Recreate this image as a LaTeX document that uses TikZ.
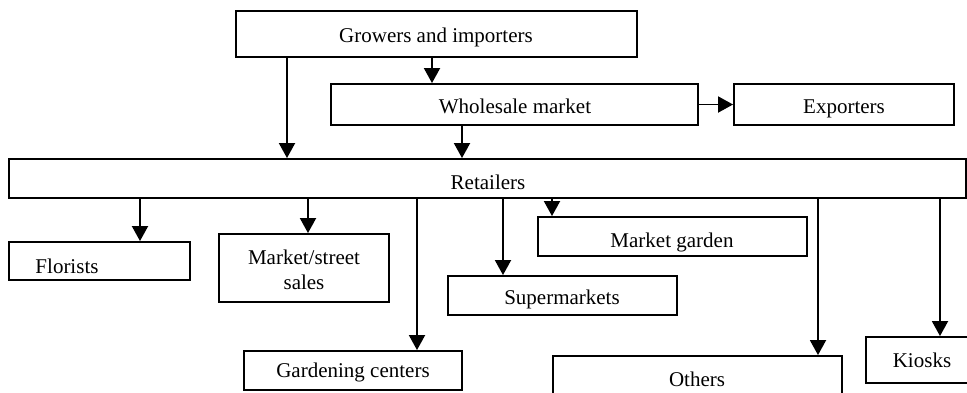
\documentclass[tikz,border=0pt]{standalone}
\usepackage{fontspec}
\setmainfont{Liberation Serif}
\usetikzlibrary{arrows.meta}
\tikzset{
  box/.style={draw=black, line width=1.9pt, inner sep=0pt, fill=white},
  lbl/.style={inner sep=0pt, anchor=base, font=\fontsize{21}{25}\selectfont},
  arr/.style={line width=1.9pt, -{Triangle[length=15pt,width=16pt]}},
}
\begin{document}
\begin{tikzpicture}[x=1pt,y=-1pt]
\clip (0,0) rectangle (967,392);
\fill[white] (0,0) rectangle (967,392);
% boxes
\node[box, minimum width=401pt, minimum height=46pt] (g) at (436.5,34) {};
\node[box, minimum width=367pt, minimum height=41pt] (w) at (514.5,104.5) {};
\node[box, minimum width=220pt, minimum height=41pt] (e) at (844,104.5) {};
\node[box, minimum width=957pt, minimum height=39pt] (r) at (487.5,178.5) {};
\node[box, minimum width=181pt, minimum height=38pt] (f) at (99.5,261) {};
\node[box, minimum width=170pt, minimum height=68pt] (m) at (304,268) {};
\node[box, minimum width=218pt, minimum height=39pt] (gc) at (353,370.5) {};
\node[box, minimum width=229pt, minimum height=39pt] (s) at (562.5,295.5) {};
\node[box, minimum width=269pt, minimum height=39pt] (mg) at (672.5,236.5) {};
\node[box, minimum width=289pt, minimum height=54pt] (o) at (697.5,383) {};
\node[box, minimum width=124pt, minimum height=46pt] (k) at (928,360) {};
% labels
\node[lbl] (gt) at (436,42) {Growers and importers};
\node[lbl] (wt) at (515,113) {Wholesale market};
\node[lbl] (et) at (844,113) {Exporters};
\node[lbl] (rt) at (488,189) {Retailers};
\node[lbl] (ft) at (67,273) {Florists};
\node[lbl] (mt1) at (304,264) {Market/street};
\node[lbl] (mt2) at (304,289) {sales};
\node[lbl] (gct) at (353,377) {Gardening centers};
\node[lbl] (st) at (562,304) {Supermarkets};
\node[lbl] (mgt) at (672,247) {Market garden};
\node[lbl] (ot) at (697,386) {Others};
\node[lbl] (kt) at (922,367) {Kiosks};
% connectors
\draw[arr] (432,0 |- g.south) -- (432,0 |- w.north);
\draw[arr] (287,0 |- g.south) -- (287,0 |- r.north);
\draw[arr] (462,0 |- w.south) -- (462,0 |- r.north);
\draw[arr] (w.east) -- (e.west);
\draw[arr] (140,0 |- r.south) -- (140,0 |- f.north);
\draw[arr] (308,0 |- r.south) -- (308,0 |- m.north);
\draw[arr] (417,0 |- r.south) -- (417,0 |- gc.north);
\draw[arr] (503,0 |- r.south) -- (503,0 |- s.north);
\draw[arr] (552,0 |- r.south) -- (552,0 |- mg.north);
\draw[arr] (818,0 |- r.south) -- (818,0 |- o.north);
\draw[arr] (940,0 |- r.south) -- (940,0 |- k.north);
\end{tikzpicture}
\end{document}
